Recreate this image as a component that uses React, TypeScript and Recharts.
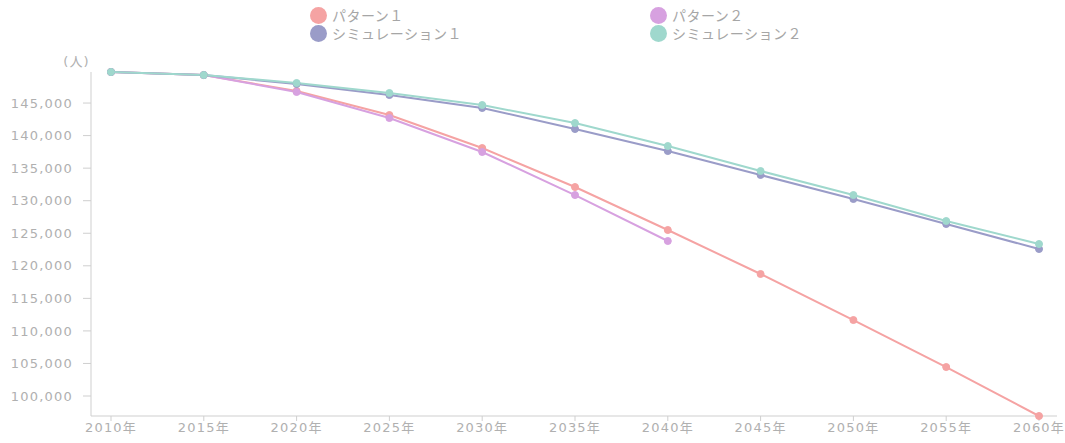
import { LineChart, Line, XAxis, YAxis } from "recharts";

const years = ["2010年", "2015年", "2020年", "2025年", "2030年", "2035年", "2040年", "2045年", "2050年", "2055年", "2060年"];

const pattern1 = [149770, 149300, 146850, 143160, 138090, 132100, 125500, 118740, 111670, 104450, 96930];
const pattern2 = [149770, 149300, 146700, 142700, 137480, 130870, 123810, null, null, null, null];
const simulation1 = [149770, 149300, 147920, 146230, 144240, 141010, 137630, 133950, 130260, 126420, 122580];
const simulation2 = [149770, 149300, 148080, 146540, 144700, 141930, 138400, 134560, 130870, 126880, 123350];

const yTicks = [100000, 105000, 110000, 115000, 120000, 125000, 130000, 135000, 140000, 145000];

const data = years.map((year, i) => ({
  year,
  p1: pattern1[i],
  p2: pattern2[i],
  s1: simulation1[i],
  s2: simulation2[i],
}));

const series = [
  { key: "p1", name: "パターン１", color: "#f5a3a3" },
  { key: "p2", name: "パターン２", color: "#d7a1e0" },
  { key: "s1", name: "シミュレーション１", color: "#9a9cc8" },
  { key: "s2", name: "シミュレーション２", color: "#9fd8cd" },
];

const font = "'DejaVu Sans', 'Noto Sans CJK JP', sans-serif";
const legendFont = "'Noto Sans CJK JP', sans-serif";
const textColor = "#b0b0b0";
const axisColor = "#cfcfcf";

function LegendBox() {
  const item = (s: typeof series[number], left: number, top: number) => (
    <div key={s.key} style={{ position: "absolute", left, top, display: "flex", alignItems: "center", height: 18 }}>
      <span style={{ width: 17, height: 17, borderRadius: 9, background: s.color, display: "inline-block" }} />
      <span style={{ marginLeft: 5, fontSize: 14, color: "#a6a6a6", fontFamily: legendFont, letterSpacing: 0.5 }}>
        {s.name}
      </span>
    </div>
  );
  return (
    <div style={{ position: "absolute", left: 0, top: 0, width: 1065, height: 44 }}>
      {item(series[0], 310, 6)}
      {item(series[1], 650, 6)}
      {item(series[2], 310, 24)}
      {item(series[3], 650, 24)}
    </div>
  );
}

export default function App() {
  return (
    <div style={{ position: "relative", width: 1065, height: 443, background: "#fff" }}>
      <style>{"body{margin:0}"}</style>
      <LineChart width={1065} height={443} data={data} margin={{ top: 72, right: 8, bottom: 0, left: 0 }}>
        <XAxis
          dataKey="year"
          height={27}
          padding={{ left: 20, right: 18 }}
          tick={{ fill: textColor, fontSize: 13, fontFamily: font, letterSpacing: 1.2 }}
          tickSize={5}
          axisLine={{ stroke: axisColor }}
          tickLine={{ stroke: axisColor }}
          interval={0}
        />
        <YAxis
          width={91}
          domain={["dataMin", "dataMax"]}
          ticks={yTicks}
          tickFormatter={(v: number) => v.toLocaleString("en-US")}
          tick={{ fill: textColor, fontSize: 13, fontFamily: font, letterSpacing: 1.2 }}
          tickSize={8}
          tickMargin={10}
          axisLine={{ stroke: axisColor }}
          tickLine={{ stroke: axisColor }}
          label={{ value: "(人)", position: "top", offset: 0, dy: -6, dx: 31, fill: textColor, fontSize: 13, fontFamily: font, letterSpacing: 1.2 }}
        />
        {series.map((s) => (
          <Line
            key={s.key}
            dataKey={s.key}
            name={s.name}
            type="linear"
            stroke={s.color}
            strokeWidth={2}
            dot={{ r: 3.5, fill: s.color, stroke: s.color, strokeWidth: 1 }}
            isAnimationActive={false}
          />
        ))}
      </LineChart>
      <LegendBox />
    </div>
  );
}
